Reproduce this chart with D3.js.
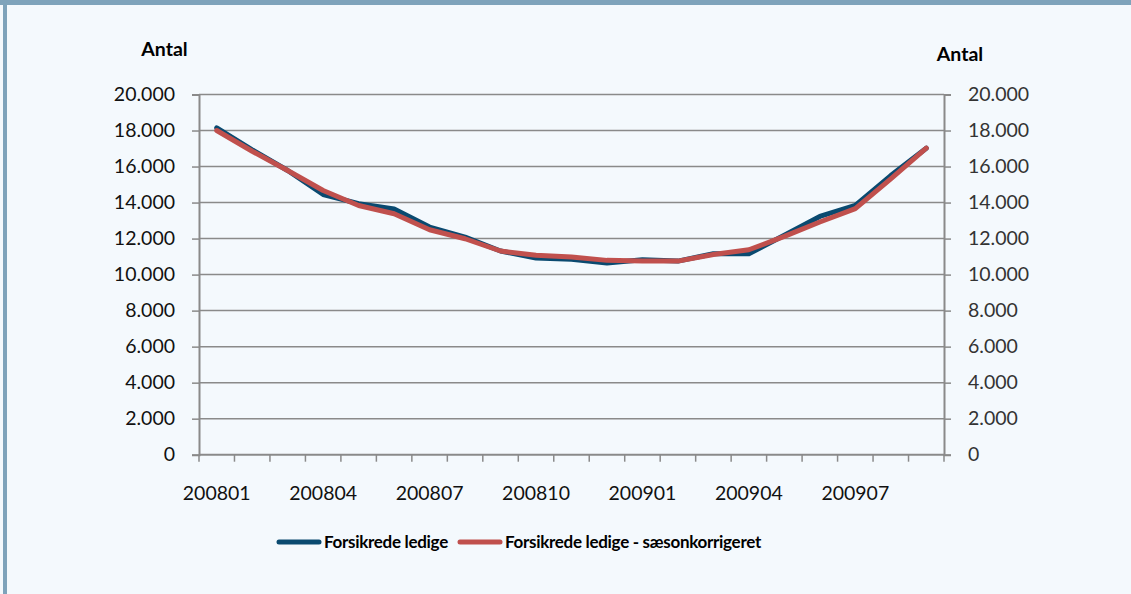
<!DOCTYPE html>
<html>
<head>
<meta charset="utf-8">
<script src="https://cdn.jsdelivr.net/npm/d3@7"></script>
<style>
  body { margin: 0; background: #f4f9fd; }
  text { font-family: Lato, "Open Sans", sans-serif; }
</style>
</head>
<body>
<div id="chart"></div>
<script>
// data
var months = ["200801","200802","200803","200804","200805","200806","200807","200808","200809","200810","200811","200812",
              "200901","200902","200903","200904","200905","200906","200907","200908","200909"];
var ledige = [18150, 16930, 15780, 14450, 13940, 13640, 12640, 12080, 11310, 10920, 10850, 10640,
              10830, 10750, 11160, 11160, 12180, 13230, 13840, 15500, 17020];
var saeson = [18000, 16850, 15780, 14670, 13840, 13380, 12490, 11990, 11310, 11070, 10980, 10790,
              10750, 10750, 11120, 11380, 12120, 12920, 13660, 15320, 17020];
var yTicks = [0, 2000, 4000, 6000, 8000, 10000, 12000, 14000, 16000, 18000, 20000];

var W = 1131, H = 594;
var svg = d3.select("#chart").append("svg")
  .attr("width", W)
  .attr("height", H);

// frame
svg.append("rect").attr("width", W).attr("height", H).attr("fill", "#f4f9fd");
svg.append("rect").attr("x", 0).attr("y", 0).attr("width", W).attr("height", 5).attr("fill", "#7ea3bb");
svg.append("rect").attr("x", 3).attr("y", 0).attr("width", 4).attr("height", H).attr("fill", "#7ea3bb");

var pLeft = 199, pRight = 944, pTop = 94.5, pBottom = 454.7;

var x = d3.scaleBand().domain(months).range([pLeft, pRight]);
var y = d3.scaleLinear().domain([0, 20000]).range([pBottom, pTop]);

var fmt = function(d) { return d3.format(",")(d).replace(/,/g, "."); };

// gridlines
svg.append("g")
  .selectAll("line")
  .data(yTicks.filter(d => d > 0))
  .enter()
  .append("line")
    .attr("x1", pLeft).attr("x2", pRight)
    .attr("y1", d => y(d)).attr("y2", d => y(d))
    .style("stroke", "#8a8a8a")
    .style("stroke-width", 1.5);

// left axis
var yLeft = svg.append("g")
  .attr("transform", "translate(" + pLeft + ",0)")
  .call(d3.axisLeft(y).tickValues(yTicks).tickFormat(fmt).tickSize(7).tickPadding(17));
yLeft.selectAll("text").style("font-size", "19.5px").attr("fill", "#111");

// right axis
var yRight = svg.append("g")
  .attr("transform", "translate(" + pRight + ",0)")
  .call(d3.axisRight(y).tickValues(yTicks).tickFormat(fmt).tickSize(7).tickPadding(17));
yRight.selectAll("text").style("font-size", "19.5px").attr("fill", "#333");

// bottom axis, ticks between categories
var xAxis = svg.append("g")
  .attr("transform", "translate(0," + pBottom + ")");
xAxis.append("line")
  .attr("x1", pLeft).attr("x2", pRight)
  .style("stroke", "#8a8a8a").style("stroke-width", 2);
xAxis.selectAll(".tk")
  .data(months.concat(["end"]))
  .enter()
  .append("line")
    .attr("x1", (d, i) => pLeft + i * x.bandwidth())
    .attr("x2", (d, i) => pLeft + i * x.bandwidth())
    .attr("y1", 0).attr("y2", 7)
    .style("stroke", "#8a8a8a").style("stroke-width", 1.5);
xAxis.selectAll(".lbl")
  .data(months.filter((d, i) => i % 3 == 0))
  .enter()
  .append("text")
    .attr("x", d => x(d) + x.bandwidth() / 2)
    .attr("y", 45.5)
    .attr("text-anchor", "middle")
    .style("font-size", "19.5px")
    .attr("fill", "#111")
    .text(d => d);

[yLeft, yRight].forEach(function(g) {
  g.select(".domain").style("stroke", "#8a8a8a").style("stroke-width", 2);
  g.selectAll(".tick line").style("stroke", "#8a8a8a").style("stroke-width", 1.5);
});

// axis titles
svg.append("text").attr("x", 164.5).attr("y", 56).attr("text-anchor", "middle")
  .style("font-size", "19.5px").style("font-weight", "bold").text("Antal");
svg.append("text").attr("x", 960).attr("y", 60.5).attr("text-anchor", "middle")
  .style("font-size", "19.5px").style("font-weight", "bold").text("Antal");

// lines
var line = d3.line()
  .x((d, i) => x(months[i]) + x.bandwidth() / 2)
  .y(d => y(d));

svg.append("path")
  .datum(ledige)
  .attr("d", line)
  .style("fill", "none")
  .style("stroke", "#0a4a70")
  .style("stroke-width", 5)
  .style("stroke-linejoin", "round")
  .style("stroke-linecap", "round");

svg.append("path")
  .datum(saeson)
  .attr("d", line)
  .style("fill", "none")
  .style("stroke", "#c0504d")
  .style("stroke-width", 5)
  .style("stroke-linejoin", "round")
  .style("stroke-linecap", "round");

// legend
var legend = [
  {name: "Forsikrede ledige", color: "#0a4a70", x: 279},
  {name: "Forsikrede ledige - sæsonkorrigeret", color: "#c0504d", x: 460}
];
var lg = svg.append("g").selectAll("g")
  .data(legend)
  .enter()
  .append("g");
lg.append("line")
  .attr("x1", d => d.x).attr("x2", d => d.x + 40)
  .attr("y1", 542).attr("y2", 542)
  .style("stroke", d => d.color)
  .style("stroke-width", 5)
  .style("stroke-linecap", "round");
lg.append("text")
  .attr("x", d => d.x + 45)
  .attr("y", 548)
  .style("font-size", "17px")
  .style("font-weight", "bold")
  .style("letter-spacing", "-0.3px")
  .text(d => d.name);
</script>
</body>
</html>
